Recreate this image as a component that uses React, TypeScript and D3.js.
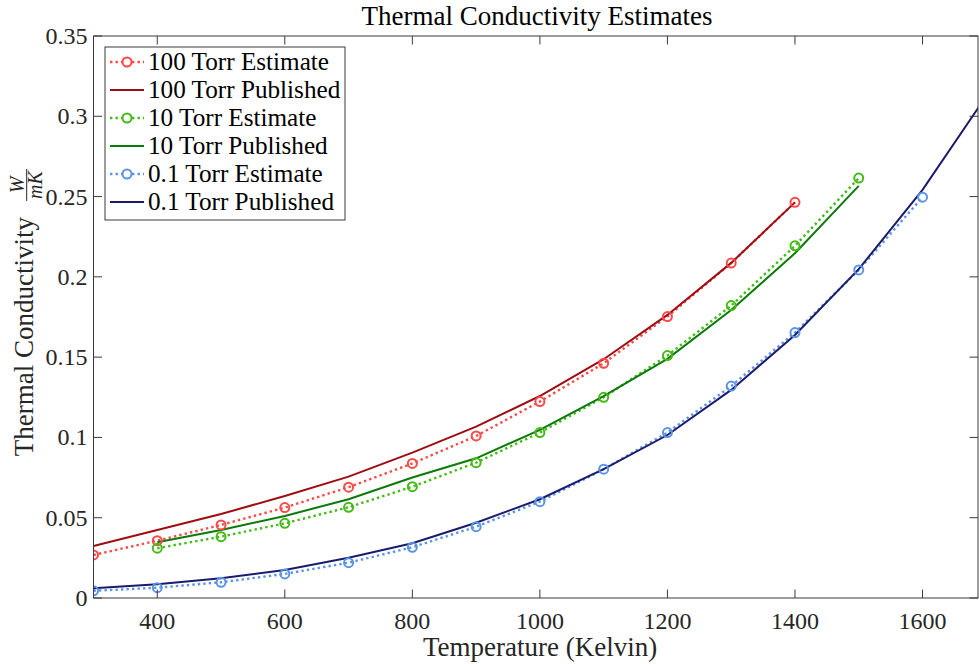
import React from "react";
import * as d3 from "d3";

const temps = [300, 400, 500, 600, 700, 800, 900, 1000, 1100, 1200, 1300, 1400, 1500, 1600, 1700];

const est100 = [0.0268, 0.0357, 0.0455, 0.0563, 0.069, 0.0838, 0.1009, 0.1223, 0.1462, 0.1753, 0.2086, 0.2464];
const pub100 = [0.0324, 0.0424, 0.0523, 0.0635, 0.0756, 0.0905, 0.1067, 0.1258, 0.1487, 0.1763, 0.2087, 0.2464];
const est10 = [0.031, 0.0382, 0.0465, 0.0565, 0.0693, 0.0843, 0.103, 0.125, 0.151, 0.1821, 0.2193, 0.2615];
const pub10 = [0.0347, 0.0424, 0.0511, 0.0615, 0.075, 0.087, 0.1047, 0.1257, 0.1489, 0.1794, 0.2147, 0.2567];
const est01 = [0.0045, 0.0064, 0.0098, 0.015, 0.022, 0.0316, 0.0444, 0.06, 0.0802, 0.103, 0.132, 0.1653, 0.2043, 0.2496];
const pub01 = [0.006, 0.0085, 0.0123, 0.0174, 0.0251, 0.0341, 0.0469, 0.0615, 0.0802, 0.1015, 0.1296, 0.1638, 0.2048, 0.2542, 0.3126];

const xTicks = [400, 600, 800, 1000, 1200, 1400, 1600];
const yTicks = [0, 0.05, 0.1, 0.15, 0.2, 0.25, 0.3, 0.35];
const yTickLabels = ["0", "0.05", "0.1", "0.15", "0.2", "0.25", "0.3", "0.35"];

const series = [
  { name: "100 Torr Estimate", start: 300, values: est100, color: "#ff4848", dotted: true, marker: true },
  { name: "100 Torr Published", start: 300, values: pub100, color: "#9e0d12", dotted: false, marker: false },
  { name: "10 Torr Estimate", start: 400, values: est10, color: "#44bb14", dotted: true, marker: true },
  { name: "10 Torr Published", start: 400, values: pub10, color: "#0a7a0a", dotted: false, marker: false },
  { name: "0.1 Torr Estimate", start: 300, values: est01, color: "#5b93e8", dotted: true, marker: true },
  { name: "0.1 Torr Published", start: 300, values: pub01, color: "#1b1b6e", dotted: false, marker: false },
];

const W = 979;
const H = 664;
const M = { left: 93.5, right: 978, top: 36, bottom: 598 };
const FONT = "'Liberation Serif', 'Times New Roman', serif";
const AX = "#3a3a3a";
const TXT = "#262626";
const DOT = "2.4,3.1";

export default function App() {
  const x = d3.scaleLinear().domain([300, 1687]).range([M.left, M.right]);
  const y = d3.scaleLinear().domain([0, 0.35]).range([M.bottom, M.top]);
  const line = d3
    .line<[number, number]>()
    .x((d) => x(d[0]))
    .y((d) => y(d[1]));

  const pts = (s: (typeof series)[number]) =>
    s.values.map((v, i) => [temps[temps.indexOf(s.start) + i], v] as [number, number]);

  const legX = 105;
  const legY = 47;
  const legW = 240;
  const legH = 173;
  const rowH = 28;

  return (
    <svg
      width={W}
      height={H}
      style={{ position: "absolute", left: 0, top: 0, background: "#fff" }}
      fontFamily={FONT}
    >
      <rect x={0} y={0} width={W} height={H} fill="#fff" />
      <defs>
        <clipPath id="plot">
          <rect x={M.left} y={M.top} width={M.right - M.left} height={M.bottom - M.top} />
        </clipPath>
      </defs>

      <g clipPath="url(#plot)">
        {series.map((s) => (
          <g key={s.name}>
            <path
              d={line(pts(s)) || ""}
              fill="none"
              stroke={s.color}
              strokeWidth={s.dotted ? 2.4 : 2}
              strokeDasharray={s.dotted ? DOT : undefined}
            />
          </g>
        ))}
        {series
          .filter((s) => s.marker)
          .map((s) =>
            pts(s).map((p, i) => (
              <circle
                key={s.name + i}
                cx={x(p[0])}
                cy={y(p[1])}
                r={4.5}
                fill="none"
                stroke={s.color}
                strokeWidth={2}
              />
            ))
          )}
      </g>

      {/* axes box */}
      <rect
        x={M.left}
        y={M.top}
        width={M.right - M.left}
        height={M.bottom - M.top}
        fill="none"
        stroke={AX}
        strokeWidth={1}
      />
      {xTicks.map((t) => (
        <g key={"xt" + t}>
          <line x1={x(t)} x2={x(t)} y1={M.bottom} y2={M.bottom - 8.5} stroke={AX} strokeWidth={1} />
          <line x1={x(t)} x2={x(t)} y1={M.top} y2={M.top + 8.5} stroke={AX} strokeWidth={1} />
          <text x={x(t)} y={M.bottom + 31} textAnchor="middle" fontSize={24} fill={TXT}>
            {t}
          </text>
        </g>
      ))}
      {yTicks.map((t, i) => (
        <g key={"yt" + t}>
          <line x1={M.left} x2={M.left + 8.5} y1={y(t)} y2={y(t)} stroke={AX} strokeWidth={1} />
          <line x1={M.right} x2={M.right - 8.5} y1={y(t)} y2={y(t)} stroke={AX} strokeWidth={1} />
          <text x={M.left - 6} y={y(t) + 8} textAnchor="end" fontSize={24} fill={TXT}>
            {yTickLabels[i]}
          </text>
        </g>
      ))}

      {/* title */}
      <text x={537} y={25} textAnchor="middle" fontSize={27} fill="#000">
        Thermal Conductivity Estimates
      </text>

      {/* x label */}
      <text x={540} y={656} textAnchor="middle" fontSize={27} fill={TXT}>
        Temperature (Kelvin)
      </text>

      {/* y label */}
      <g transform={`translate(33, 317) rotate(-90)`} fill={TXT}>
        <text x={100} y={0} textAnchor="end" fontSize={27}>
          Thermal Conductivity
        </text>
        <text x={132} y={-9} textAnchor="middle" fontSize={20} fontStyle="italic">
          W
        </text>
        <line x1={116} x2={148} y1={-6.3} y2={-6.3} stroke={TXT} strokeWidth={1} />
        <text x={132} y={9} textAnchor="middle" fontSize={20} fontStyle="italic">
          mK
        </text>
      </g>

      {/* legend */}
      <rect x={legX} y={legY} width={legW} height={legH} fill="#fff" stroke={AX} strokeWidth={1} />
      {series.map((s, i) => {
        const cy = legY + 15 + i * rowH;
        return (
          <g key={"leg" + s.name}>
            <line
              x1={110}
              x2={144}
              y1={cy}
              y2={cy}
              stroke={s.color}
              strokeWidth={s.dotted ? 2.4 : 2}
              strokeDasharray={s.dotted ? DOT : undefined}
            />
            {s.marker && <circle cx={127} cy={cy} r={4.5} fill="#fff" stroke={s.color} strokeWidth={2} />}
            <text x={148} y={cy + 8} fontSize={25.2} fill="#000">
              {s.name}
            </text>
          </g>
        );
      })}
    </svg>
  );
}
